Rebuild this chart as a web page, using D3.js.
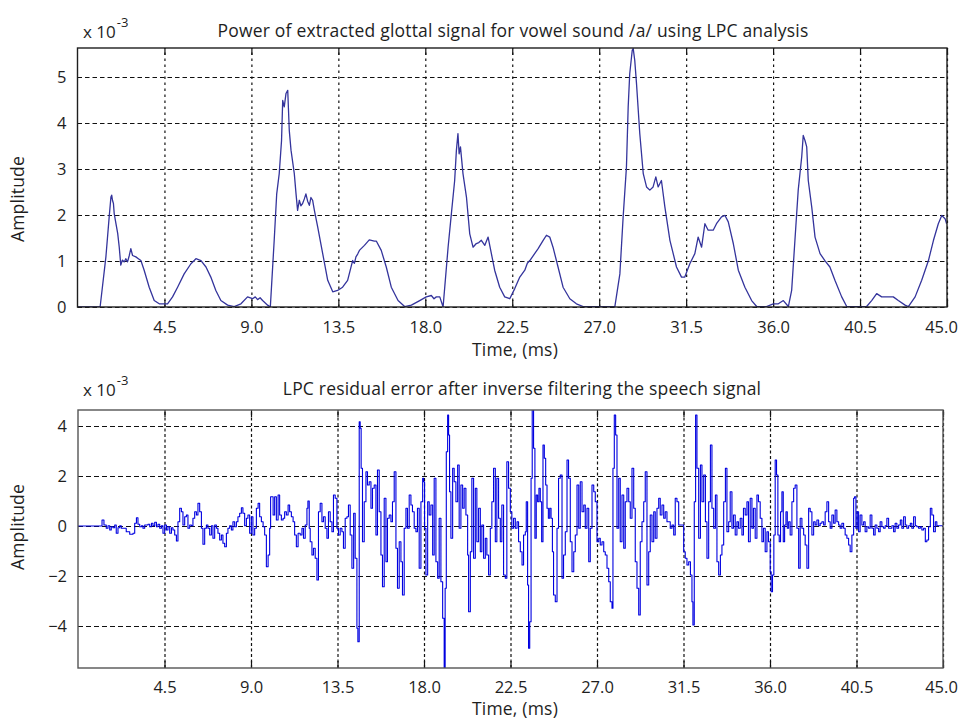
<!DOCTYPE html>
<html>
<head>
<meta charset="utf-8">
<script src="https://cdn.jsdelivr.net/npm/d3@7"></script>
<style>
  body { margin: 0; background: #fff; }
  text { font-family: "Open Sans", sans-serif; fill: #1e1e1e; }
</style>
</head>
<body>
<script>
// values, time in ms, amplitude in units of 1e-3
const glottalPoints = [
  [0,0],[1.17,0],[1.47,1.09],[1.64,1.96],[1.73,2.39],[1.77,2.43],[1.81,2.32],[1.86,2.25],[1.90,2.03],[1.99,1.81],
  [2.08,1.60],[2.16,1.30],[2.24,0.91],[2.32,1.02],[2.42,0.98],[2.50,1.05],[2.59,0.98],[2.68,1.12],[2.76,1.27],[2.85,1.12],
  [3.02,1.09],[3.15,1.05],[3.28,1.01],[3.45,0.80],[3.71,0.43],[3.97,0.14],[4.23,0.07],[4.66,0.07],[4.92,0.22],[5.18,0.43],
  [5.52,0.72],[5.87,0.94],[6.13,1.05],[6.39,1.01],[6.65,0.87],[6.90,0.65],[7.16,0.36],[7.42,0.14],[7.77,0.04],[8.11,0.01],
  [8.46,0.07],[8.80,0.22],[9.06,0.18],[9.20,0.22],[9.32,0.16],[9.45,0.20],[9.58,0.14],[9.84,0.04],[9.98,0],[10.18,1.45],
  [10.31,2.46],[10.44,2.90],[10.56,3.62],[10.62,4.49],[10.70,4.35],[10.79,4.64],[10.88,4.71],[10.96,3.84],[11.05,3.41],[11.22,2.90],
  [11.31,2.46],[11.39,2.10],[11.48,2.32],[11.56,2.20],[11.65,2.25],[11.74,2.35],[11.82,2.46],[11.91,2.30],[12.00,2.21],[12.08,2.38],
  [12.17,2.32],[12.26,2.10],[12.43,1.74],[12.69,1.16],[12.95,0.58],[13.21,0.33],[13.46,0.36],[13.72,0.43],[13.98,0.58],[14.24,1.01],
  [14.33,0.95],[14.41,1.09],[14.50,1.15],[14.59,1.23],[14.85,1.34],[15.10,1.46],[15.36,1.43],[15.47,1.43],[15.72,1.23],[15.98,0.87],
  [16.24,0.43],[16.59,0.14],[16.93,0.01],[17.28,0.04],[17.71,0.14],[18.05,0.22],[18.31,0.25],[18.45,0.18],[18.57,0.22],[18.75,0.22],
  [18.92,0],[19.18,1.30],[19.35,2.03],[19.52,2.75],[19.61,3.41],[19.69,3.77],[19.75,3.33],[19.82,3.48],[19.95,2.90],[20.13,2.39],
  [20.30,1.59],[20.47,1.30],[20.64,1.38],[20.77,1.40],[20.90,1.45],[21.08,1.34],[21.25,1.52],[21.42,1.16],[21.59,0.80],[21.85,0.43],
  [22.11,0.22],[22.37,0.18],[22.63,0.40],[22.89,0.65],[23.15,0.80],[23.28,0.95],[23.41,1.01],[23.66,1.16],[23.84,1.27],[24.10,1.45],
  [24.27,1.56],[24.44,1.52],[24.61,1.30],[24.87,0.87],[25.13,0.43],[25.48,0.18],[25.82,0.07],[26.17,0.01],[26.86,0.01],[27.81,0.01],
  [28.07,0.72],[28.24,1.96],[28.41,3.04],[28.50,4.35],[28.58,5.07],[28.71,5.58],[28.76,5.62],[28.84,5.36],[28.93,4.86],[29.10,3.77],
  [29.28,2.90],[29.45,2.61],[29.62,2.54],[29.79,2.61],[29.93,2.83],[30.05,2.61],[30.22,2.75],[30.40,2.17],[30.66,1.45],[31.00,0.87],
  [31.26,0.65],[31.43,0.65],[31.69,0.94],[31.95,1.16],[32.12,1.52],[32.30,1.30],[32.47,1.81],[32.64,1.67],[32.90,1.67],[33.07,1.81],
  [33.33,1.96],[33.51,1.99],[33.68,1.85],[33.94,1.38],[34.20,0.80],[34.54,0.43],[34.89,0.14],[35.15,0.01],[35.66,0.01],[36.01,0.07],
  [36.27,0.07],[36.53,0.14],[36.79,0.01],[36.96,0.36],[37.13,1.45],[37.30,2.54],[37.48,3.26],[37.56,3.73],[37.65,3.62],[37.74,3.48],
  [37.82,2.75],[38.00,2.17],[38.17,1.52],[38.43,1.16],[38.68,1.01],[38.94,0.87],[39.20,0.58],[39.55,0.22],[39.81,0.01],[40.84,0.01],
  [41.10,0.14],[41.36,0.29],[41.62,0.22],[41.88,0.22],[42.22,0.22],[42.48,0.14],[42.83,0.04],[43.00,0.01],[43.35,0.22],[43.69,0.58],
  [44.04,1.01],[44.30,1.45],[44.55,1.81],[44.73,1.99],[44.90,1.92],[44.98,1.81]
]

const residualPoints = [
  [0,0],[1.18,0],[1.25,0.24],[1.35,0.04],[1.47,-0.09],[1.56,0.01],[1.65,-0.16],[1.73,-0.03],[1.82,-0.07],[1.91,0.04],
  [1.99,-0.29],[2.08,-0.07],[2.17,0.01],[2.25,-0.09],[2.34,-0.09],[2.51,-0.23],[2.69,-0.33],[2.86,-0.29],[2.95,0.11],[3.04,0.33],
  [3.12,0.07],[3.21,-0.03],[3.30,0.01],[3.38,-0.09],[3.47,0.04],[3.64,0.07],[3.73,-0.03],[3.82,0.11],[3.90,0.01],[3.99,0.15],
  [4.08,-0.03],[4.16,0.07],[4.25,-0.09],[4.34,0.01],[4.42,-0.29],[4.51,0.04],[4.60,-0.16],[4.68,-0.03],[4.77,-0.29],[4.86,-0.07],
  [4.94,-0.16],[5.03,-0.36],[5.12,-0.60],[5.20,0.17],[5.29,0.71],[5.38,0.57],[5.46,0.04],[5.55,0.37],[5.64,0.44],[5.72,-0.09],
  [5.81,0.04],[5.90,0.01],[5.98,0.31],[6.07,0.57],[6.16,0.44],[6.24,0.91],[6.33,0.57],[6.42,-0.09],[6.50,-0.73],[6.59,-0.09],
  [6.68,0.04],[6.76,-0.09],[6.85,-0.36],[6.94,0.01],[7.02,-0.49],[7.11,0.04],[7.20,-0.09],[7.28,-0.29],[7.37,-0.56],[7.46,-0.36],
  [7.54,-0.69],[7.63,-0.83],[7.72,-0.29],[7.80,-0.09],[7.89,0.01],[7.98,-0.16],[8.06,0.17],[8.15,-0.03],[8.24,0.17],[8.32,0.37],
  [8.41,0.51],[8.50,0.73],[8.58,0.51],[8.67,0.01],[8.76,0.31],[8.84,0.44],[8.93,-0.29],[9.02,0.37],[9.10,-0.36],[9.19,-0.09],
  [9.28,0.71],[9.37,0.91],[9.45,0.37],[9.54,0.17],[9.63,-0.03],[9.71,-0.36],[9.80,-1.63],[9.89,-1.16],[9.97,-0.09],[10.02,1.17],
  [10.15,0.44],[10.23,1.17],[10.32,0.24],[10.41,1.24],[10.49,0.44],[10.58,0.24],[10.67,0.31],[10.75,0.57],[10.84,0.44],[10.93,0.84],
  [11.01,0.57],[11.10,0.37],[11.19,0.17],[11.27,-0.36],[11.36,-0.83],[11.45,-0.29],
  [11.56,-0.36],[11.65,-0.09],[11.73,-0.49],[11.82,0.04],[11.91,0.71],[11.96,1.00],[12.03,-0.09],[12.08,-0.63],[12.17,-1.16],[12.25,-0.89],
  [12.34,-1.29],[12.43,-2.16],[12.51,0.57],[12.60,0.91],[12.69,0.17],[12.77,0.37],[12.86,-0.09],[12.95,-0.49],[13.03,0.57],[13.12,0.17],
  [13.21,-0.23],[13.29,1.24],[13.38,1.11],[13.47,-0.09],[13.55,-0.36],[13.64,-0.09],[13.73,-0.23],[13.81,-0.89],[13.90,0.31],[13.99,0.37],
  [14.07,0.84],[14.16,-0.36],[14.25,-1.69],[14.34,0.51],[14.42,-1.29],[14.51,-4.09],[14.56,-4.63],[14.63,4.17],[14.68,3.91],[14.73,2.31],
  [14.80,-0.63],[14.89,0.97],[14.98,2.17],[15.06,1.64],[15.15,1.77],[15.24,0.71],[15.32,1.51],[15.41,1.64],[15.50,-0.36],[15.58,2.24],
  [15.67,0.57],[15.76,-1.16],[15.84,-2.43],[15.93,1.11],[16.02,-1.43],[16.10,0.31],[16.19,0.44],[16.28,0.17],[16.36,0.97],[16.45,2.17],
  [16.54,-0.89],[16.62,-2.49],[16.71,-0.63],[16.80,-1.43],[16.88,-2.76],[16.97,-0.09],[17.06,0.71],[17.14,-0.09],[17.23,1.24],[17.32,0.84],
  [17.40,0.57],[17.49,-0.09],[17.58,-0.23],[17.66,0.71],[17.75,-1.69],[17.84,0.97],[17.93,1.91],[17.98,1.77],[18.03,-0.09],[18.10,-1.96],
  [18.19,0.97],[18.27,0.44],[18.36,0.84],[18.45,-1.16],[18.53,1.91],[18.62,-1.43],[18.71,-2.09],[18.79,0.31],[18.88,-2.23],[18.97,-3.69],
  [19.05,-5.69],[19.10,-2.49],[19.16,2.97],[19.23,4.44],[19.28,3.64],[19.33,1.37],[19.40,-0.49],[19.49,2.31],[19.57,1.77],[19.66,0.97],
  [19.75,2.44],[19.83,-0.09],[19.92,1.64],[20.01,0.71],[20.09,1.51],[20.18,0.44],[20.27,-1.16],[20.32,-3.43],[20.41,-1.03],[20.49,1.91],
  [20.58,-1.29],[20.67,1.51],[20.75,-0.63],[20.84,0.71],[20.93,-1.03],[21.01,0.04],[21.10,-1.29],[21.19,-0.49],[21.27,-1.16],[21.36,-1.96],
  [21.45,-0.09],[21.53,0.97],[21.62,2.31],[21.71,-0.63],[21.79,1.91],[21.88,0.31],[21.97,-0.63],[22.05,0.84],[22.14,-1.96],[22.23,-2.09],
  [22.31,2.57],[22.40,1.51],[22.49,0.57],[22.57,-0.09],[22.66,0.31],
  [22.75,-0.09],[22.84,0.17],[22.92,-0.63],[23.01,-1.03],[23.10,-1.56],[23.18,-0.36],[23.27,-0.23],[23.32,0.97],[23.39,-2.36],[23.44,-4.89],
  [23.50,-3.83],[23.57,1.91],[23.63,4.71],[23.70,3.11],[23.77,-0.49],[23.84,1.24],[23.91,0.97],[23.98,1.51],[24.05,0.97],[24.12,-0.63],
  [24.19,3.24],[24.26,2.71],[24.33,1.64],[24.40,0.71],[24.47,0.31],[24.54,0.71],[24.61,0.31],[24.68,-1.03],[24.74,-2.76],[24.83,-3.03],
  [24.92,-0.09],[25.00,1.91],[25.09,2.04],[25.18,-2.09],[25.26,-1.16],[25.35,-0.23],[25.44,2.64],[25.52,1.91],[25.61,-0.63],[25.70,-1.83],
  [25.79,-1.03],[25.87,-0.36],[25.96,1.64],[26.05,-0.09],[26.13,1.77],[26.22,0.57],[26.31,0.84],[26.39,-0.09],[26.48,0.71],[26.57,-1.43],
  [26.65,-0.09],[26.74,1.64],[26.83,1.37],[26.91,0.97],[27.00,-0.63],[27.09,-0.49],[27.17,-0.76],[27.26,-0.63],[27.35,-1.03],[27.43,-1.16],
  [27.52,-1.69],[27.61,-2.23],[27.69,-3.03],[27.78,-3.29],[27.83,2.31],[27.90,4.44],[27.97,3.64],[28.04,-0.09],[28.13,1.91],[28.21,-0.63],
  [28.30,1.24],[28.39,-0.89],[28.47,0.97],[28.56,1.51],[28.65,0.97],[28.73,0.31],[28.82,2.31],[28.91,0.71],[28.99,-1.43],[29.08,-2.49],
  [29.17,-3.56],[29.25,-0.63],[29.34,0.17],[29.43,0.97],[29.51,2.17],[29.60,-2.36],[29.69,-1.03],[29.77,0.44],[29.86,-0.63],[29.95,0.57],
  [30.03,-0.49],[30.12,0.71],[30.21,1.11],[30.29,0.44],[30.38,0.84],[30.47,0.31],[30.55,0.57],[30.64,0.17],[30.73,0.17],[30.81,-0.09],
  [30.90,0.04],[30.99,-0.36],[31.07,1.11],[31.16,0.97],[31.25,0.04],[31.33,0.04],[31.42,0.04],[31.51,-1.03],[31.59,-1.29],[31.68,-1.56],
  [31.77,-1.43],[31.86,-1.96],[31.94,-3.03],[31.99,-3.96],[32.06,0.97],[32.13,4.44],[32.20,2.31],[32.29,-0.49],[32.38,2.44],[32.46,0.97],
  [32.55,2.04],[32.64,0.17],[32.72,-1.29],[32.81,0.97],[32.90,3.24],[32.98,0.71],[33.07,-0.09],[33.16,1.24],[33.24,-1.43],[33.33,-1.96],
  [33.42,-1.16],[33.50,-0.76],[33.59,0.97],[33.68,2.31],[33.76,-0.23],[33.85,0.17],
  [33.93,1.37],[34.02,-0.09],[34.10,0.44],[34.19,-0.36],[34.28,0.17],[34.36,-0.09],[34.45,0.31],[34.54,-0.36],[34.62,0.71],[34.71,0.44],
  [34.80,0.97],[34.88,-0.63],[34.97,1.11],[35.06,-0.09],[35.14,0.71],[35.23,-0.49],[35.32,1.24],[35.40,0.97],[35.49,0.31],[35.58,-0.63],
  [35.66,-0.09],[35.75,-1.03],[35.84,-0.23],[35.92,-0.63],[36.01,-1.83],[36.06,-2.63],[36.13,-1.96],[36.20,-0.36],[36.27,2.64],[36.34,2.04],
  [36.41,-0.36],[36.48,-0.63],[36.55,0.57],[36.62,1.37],[36.69,-0.63],[36.76,0.04],[36.83,0.57],[36.90,-0.09],[36.97,0.17],[37.05,-0.36],
  [37.14,0.97],[37.23,1.51],[37.31,1.64],[37.40,-0.09],[37.49,-1.69],[37.57,0.31],[37.66,-0.09],[37.75,-0.36],[37.83,-0.76],[37.92,-1.69],
  [38.01,0.71],[38.09,0.57],[38.18,-0.36],[38.27,0.17],[38.35,0.04],[38.44,0.24],[38.53,0.01],[38.61,0.11],[38.70,0.17],[38.79,0.04],
  [38.87,0.57],[38.96,0.97],[39.05,0.17],[39.13,-0.09],[39.22,0.44],[39.31,0.11],[39.39,0.64],[39.48,0.17],[39.57,0.04],[39.65,-0.09],
  [39.74,0.11],[39.83,-0.09],[39.91,-0.36],[40.00,-0.49],[40.09,-0.76],[40.17,-1.03],[40.26,-0.36],[40.35,1.11],[40.40,1.17],[40.47,-0.09],
  [40.54,0.57],[40.61,-0.23],[40.69,0.44],[40.78,0.04],[40.87,0.17],[40.95,-0.23],[41.04,-0.03],[41.13,-0.09],[41.21,0.44],[41.30,-0.09],
  [41.39,-0.36],[41.47,0.04],[41.56,-0.09],[41.65,-0.23],[41.73,0.17],[41.82,-0.03],[41.91,-0.09],[41.99,0.01],[42.08,0.31],[42.17,-0.09],
  [42.25,-0.09],[42.34,0.01],[42.43,-0.23],[42.51,0.11],[42.60,-0.09],[42.69,0.04],[42.78,0.24],[42.86,-0.09],[42.95,0.37],[43.04,0.04],
  [43.12,-0.09],[43.21,0.01],[43.30,0.11],[43.38,-0.09],[43.47,0.37],[43.56,0.01],[43.64,-0.03],[43.73,-0.09],[43.82,-0.03],[43.90,-0.16],
  [43.99,-0.09],[44.08,-0.63],[44.16,-0.56],[44.25,-0.03],[44.34,0.71],[44.42,0.44],[44.51,-0.23],[44.60,0.17],[44.68,0.01],[44.77,0.01],
  [45.00,0.01]
]

const timeTicks = [4.5, 9.0, 13.5, 18.0, 22.5, 27.0, 31.5, 36.0, 40.5, 45.0]
const glottalYTicks = [0, 1, 2, 3, 4, 5]
const residualYTicks = [-4, -2, 0, 2, 4]
const titles = [
  'Power of extracted glottal signal for vowel sound /a/ using LPC analysis',
  'LPC residual error after inverse filtering the speech signal'
]
const xLabel = 'Time, (ms)'
const yLabel = 'Amplitude'

const W = 962
const H = 720

const svg = d3.select('body')
              .append('svg')
              .attr('width', W)
              .attr('height', H)

const panels = [
  {
    title: titles[0], data: glottalPoints, yTicks: glottalYTicks, yDomain: [0, 5.63],
    l: 77.5, r: 947, t: 48, b: 307, titleX: 513, titleY: 37, tickY: 333, xLabY: 356, yLabY: 199, expY: 38,
    color: '#34349c', lw: 1.3, curve: d3.curveLinear, hDash: '4.5,3', vDash: '2.5,3.5', frame: '#1e1e1e'
  },
  {
    title: titles[1], data: residualPoints, yTicks: residualYTicks, yDomain: [-5.68, 4.64],
    l: 78, r: 943, t: 410, b: 668, titleX: 522, titleY: 395, tickY: 693, xLabY: 715, yLabY: 527, expY: 396,
    color: '#0000e0', lw: 1.1, curve: d3.curveStepAfter, hDash: '5,3', vDash: '3,2.5', frame: '#555'
  }
]

panels.forEach((p, i) => {
  const x = d3.scaleLinear().domain([0, 45]).range([p.l, p.r])
  const y = d3.scaleLinear().domain(p.yDomain).range([p.b, p.t])
  const g = svg.append('g')

  // grid
  g.append('g')
    .attr('transform', 'translate(0,' + p.b + ')')
    .call(d3.axisBottom(x).tickValues(timeTicks).tickSize(-(p.b - p.t)).tickFormat(''))
    .call(a => a.select('.domain').remove())
    .selectAll('line')
    .attr('stroke', '#111')
    .attr('stroke-width', 1.2)
    .attr('stroke-dasharray', p.vDash)

  g.append('g')
    .attr('transform', 'translate(' + p.l + ',0)')
    .call(d3.axisLeft(y).tickValues(p.yTicks).tickSize(-(p.r - p.l)).tickFormat(''))
    .call(a => a.select('.domain').remove())
    .selectAll('line')
    .attr('stroke', '#111')
    .attr('stroke-width', 1.2)
    .attr('stroke-dasharray', p.hDash)

  // inward tick marks like matlab
  g.append('g')
    .attr('transform', 'translate(0,' + p.b + ')')
    .call(d3.axisBottom(x).tickValues(timeTicks).tickSize(-7).tickFormat(''))
    .call(a => a.select('.domain').remove())
    .selectAll('line').attr('stroke', '#111').attr('stroke-width', 1.2)
  g.append('g')
    .attr('transform', 'translate(0,' + p.t + ')')
    .call(d3.axisTop(x).tickValues(timeTicks).tickSize(-7).tickFormat(''))
    .call(a => a.select('.domain').remove())
    .selectAll('line').attr('stroke', '#111').attr('stroke-width', 1.2)

  // the signal
  const clipId = 'clip' + i
  svg.append('clipPath').attr('id', clipId)
    .append('rect')
    .attr('x', p.l).attr('y', p.t)
    .attr('width', p.r - p.l).attr('height', p.b - p.t)

  const line = d3.line()
                 .x(d => x(d[0]))
                 .y(d => y(d[1]))
                 .curve(p.curve)

  g.append('path')
    .datum(p.data)
    .attr('clip-path', 'url(#' + clipId + ')')
    .attr('fill', 'none')
    .attr('stroke', p.color)
    .attr('stroke-width', p.lw)
    .attr('stroke-linejoin', 'round')
    .attr('d', line)

  // frame
  g.append('rect')
    .attr('x', p.l).attr('y', p.t)
    .attr('width', p.r - p.l).attr('height', p.b - p.t)
    .attr('fill', 'none')
    .attr('stroke', p.frame)
    .attr('stroke-width', 1.4)

  // tick labels, last one pulled in so it stays on the page
  g.append('g')
    .attr('transform', 'translate(0,' + p.tickY + ')')
    .call(d3.axisBottom(x).tickValues(timeTicks).tickSize(0).tickPadding(0).tickFormat(d3.format('.1f')))
    .call(a => a.select('.domain').remove())
    .selectAll('text')
    .attr('dy', 0)
    .attr('dx', d => d === 45 ? -(p.r - 941) : 0)
    .attr('font-size', 16.5)
    .attr('font-family', '"Open Sans", sans-serif')
    .attr('fill', '#1e1e1e')

  g.append('g')
    .attr('transform', 'translate(' + (p.l - 11) + ',0)')
    .call(d3.axisLeft(y).tickValues(p.yTicks).tickSize(0).tickPadding(0).tickFormat(d3.format('d')))
    .call(a => a.select('.domain').remove())
    .selectAll('text')
    .attr('font-size', 16.5)
    .attr('font-family', '"Open Sans", sans-serif')
    .attr('fill', '#1e1e1e')

  // titles and labels
  g.append('text')
    .attr('x', p.titleX).attr('y', p.titleY)
    .attr('text-anchor', 'middle')
    .attr('font-size', 17.5)
    .attr('letter-spacing', 0.2)
    .text(p.title)

  g.append('text')
    .attr('x', 515).attr('y', p.xLabY)
    .attr('text-anchor', 'middle')
    .attr('font-size', 17.5)
    .attr('letter-spacing', 0.2)
    .text(xLabel)

  g.append('text')
    .attr('transform', 'translate(24,' + p.yLabY + ') rotate(-90)')
    .attr('text-anchor', 'middle')
    .attr('font-size', 17.5)
    .attr('letter-spacing', 0.2)
    .text(yLabel)

  const ex = g.append('text')
    .attr('x', 83).attr('y', p.expY)
    .attr('font-size', 17)
  ex.append('tspan').text('x 10')
  ex.append('tspan').attr('dy', -11).attr('dx', 1).attr('font-size', 13).text('-3')
})
</script>
</body>
</html>
